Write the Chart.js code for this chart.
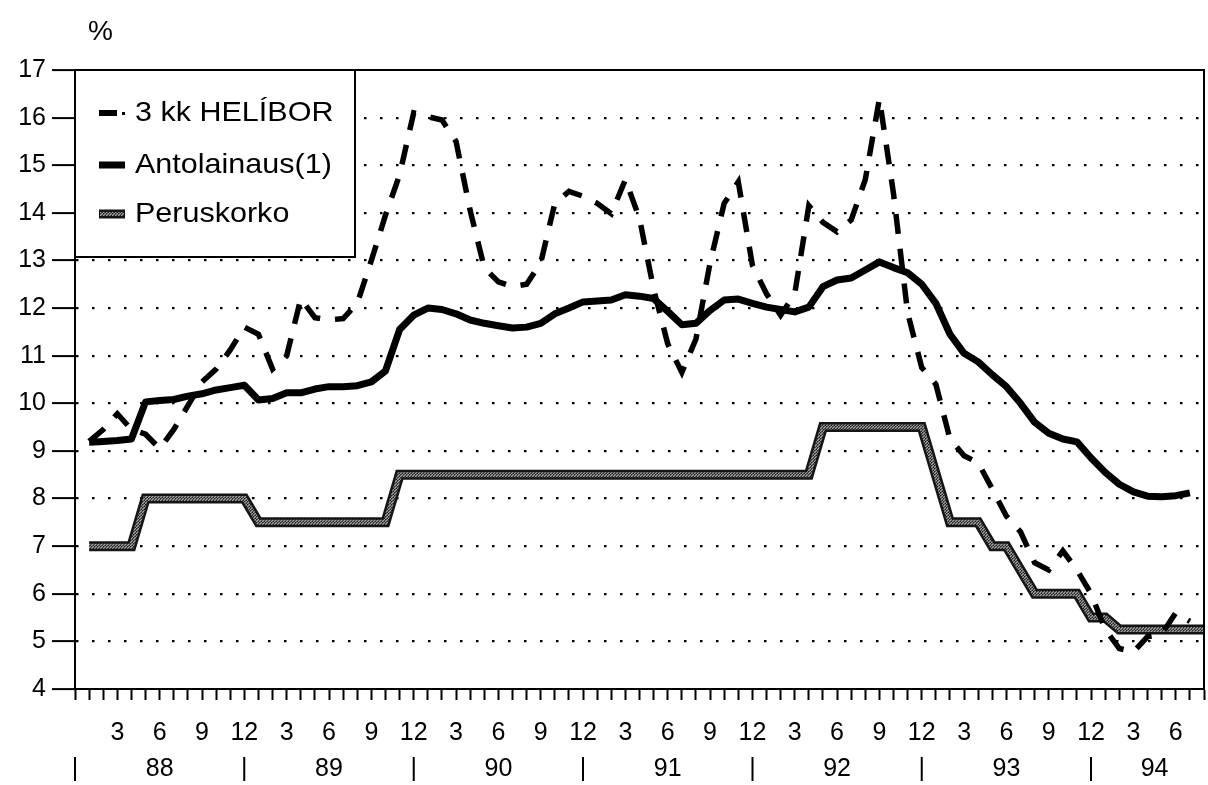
<!DOCTYPE html>
<html>
<head>
<meta charset="utf-8">
<script src="https://cdn.jsdelivr.net/npm/chart.js@4"></script>
<style>
  html, body { margin: 0; padding: 0; background: #fff; }
  #wrap { position: relative; width: 1208px; height: 785px; }
</style>
</head>
<body>
<div id="wrap"><canvas id="chart" width="1208" height="785"></canvas></div>
<script>
// monthly data, Jan 88 .. Aug 94 (index 0 is the axis origin, no data)
const years = ['88', '89', '90', '91', '92', '93', '94'];
const monthsInLastYear = 8;
const monthTickLabels = { 3: '3', 6: '6', 9: '9', 12: '12' };
const seriesNames = ['3 kk HELÍBOR', 'Antolainaus(1)', 'Peruskorko'];

const helibor = [
  9.2, 9.45, 9.78, 9.45, 9.35, 9.05, 9.45, 9.95, 10.45, 10.72,
  11.12, 11.6, 11.45, 10.72, 11.0, 12.2, 11.8, 11.75, 11.78, 12.1,
  13.0, 13.95, 14.8, 16.1, 16.02, 15.95, 15.5, 14.05, 12.85, 12.55,
  12.45, 12.5, 12.95, 14.2, 14.45, 14.35, 14.2, 13.98, 14.7, 13.88,
  12.4, 11.25, 10.65, 11.35, 12.95, 14.2, 14.65, 12.9, 12.3, 11.85,
  12.3, 14.15, 13.8, 13.6, 13.85, 14.7, 16.4, 14.4, 11.9, 10.75,
  10.4, 9.25, 8.9, 8.75, 8.2, 7.63, 7.3, 6.65, 6.5, 6.9,
  6.5, 6.0, 5.25, 4.85, 4.78, 5.1, 5.15, 5.6, 5.42
];

const antolainaus = [
  9.18, 9.2, 9.22, 9.25, 10.03, 10.06, 10.08, 10.15, 10.2, 10.28,
  10.33, 10.38, 10.07, 10.1, 10.22, 10.22, 10.3, 10.35, 10.35, 10.37,
  10.45, 10.68, 11.55, 11.85, 12.0, 11.97, 11.88, 11.75, 11.68, 11.63,
  11.58, 11.6, 11.68, 11.88, 12.0, 12.13, 12.15, 12.17, 12.28, 12.25,
  12.2, 11.93, 11.65, 11.68, 11.95, 12.17, 12.19, 12.1, 12.02, 11.97,
  11.92, 12.02, 12.45, 12.59, 12.63, 12.8, 12.97, 12.85, 12.74, 12.5,
  12.1, 11.45, 11.05, 10.87, 10.6, 10.35, 10.0, 9.6, 9.37, 9.25,
  9.19, 8.85, 8.55, 8.3, 8.14, 8.05, 8.04, 8.06, 8.12
];

const peruskorko = [
  7, 7, 7, 7, 8, 8, 8, 8, 8, 8,
  8, 8, 7.5, 7.5, 7.5, 7.5, 7.5, 7.5, 7.5, 7.5,
  7.5, 7.5, 8.5, 8.5, 8.5, 8.5, 8.5, 8.5, 8.5, 8.5,
  8.5, 8.5, 8.5, 8.5, 8.5, 8.5, 8.5, 8.5, 8.5, 8.5,
  8.5, 8.5, 8.5, 8.5, 8.5, 8.5, 8.5, 8.5, 8.5, 8.5,
  8.5, 8.5, 9.5, 9.5, 9.5, 9.5, 9.5, 9.5, 9.5, 9.5,
  8.5, 7.5, 7.5, 7.5, 7, 7, 6.5, 6, 6, 6,
  6, 5.5, 5.5, 5.25, 5.25, 5.25, 5.25, 5.25, 5.25, 5.25
];

const FONT = '"Liberation Sans", Arial, Helvetica, sans-serif';

// category labels: '' for the origin, then m/yy
const categories = [''];
years.forEach((y, k) => {
  const n = k === years.length - 1 ? monthsInLastYear : 12;
  for (let m = 1; m <= n; m++) categories.push(m + '/' + y);
});

function monthLabel(index) {
  if (index === 0) return '';
  const m = ((index - 1) % 12) + 1;
  return monthTickLabels[m] || '';
}

// halftone grey used for Peruskorko
function greyTexture() {
  const c = document.createElement('canvas');
  c.width = 3; c.height = 3;
  const g = c.getContext('2d');
  g.fillStyle = '#5a5a5a'; g.fillRect(0, 0, 3, 3);
  g.fillStyle = '#a8a8a8'; g.fillRect(0, 0, 1, 1); g.fillRect(2, 1, 1, 1); g.fillRect(1, 2, 1, 1);
  g.fillStyle = '#1a1a1a'; g.fillRect(1, 0, 1, 1); g.fillRect(0, 2, 1, 1);
  return g.createPattern(c, 'repeat');
}
const texture = greyTexture();

const extras = {
  id: 'extras',
  afterDraw(chart) {
    const { ctx, chartArea: a, scales: { x } } = chart;
    ctx.save();
    // frame round the plot
    ctx.strokeStyle = '#000';
    ctx.lineWidth = 2;
    ctx.strokeRect(a.left, a.top, a.right - a.left, a.bottom - a.top);

    // year row under the month labels
    ctx.fillStyle = '#000';
    ctx.font = '25px ' + FONT;
    ctx.textAlign = 'center';
    ctx.textBaseline = 'middle';
    const rowY = x.top + 80;
    years.forEach((y, k) => {
      const start = k * 12;
      const end = Math.min(start + 12, categories.length);
      ctx.fillText('|', x.getPixelForValue(start), rowY);
      ctx.fillText(y, x.getPixelForValue((start + end) / 2), rowY);
    });

    // unit
    ctx.textAlign = 'left';
    ctx.font = '28px ' + FONT;
    ctx.fillText('%', 88, 32);

    // legend box
    const bx = a.left, by = a.top, bw = 280, bh = 187;
    ctx.fillStyle = '#fff';
    ctx.fillRect(bx, by, bw, bh);
    ctx.strokeStyle = '#000';
    ctx.lineWidth = 2;
    ctx.strokeRect(bx, by, bw, bh);

    const sx = bx + 24, tx = bx + 60;
    const rows = [by + 43, by + 95, by + 144];
    ctx.fillStyle = '#000';
    // dashed sample
    ctx.fillRect(sx, rows[0] - 3, 18, 6);
    ctx.fillRect(sx + 23, rows[0] - 1, 3, 3);
    // solid sample
    ctx.fillRect(sx, rows[1] - 3.5, 26, 7);
    // grey sample
    ctx.fillStyle = '#151515';
    ctx.fillRect(sx, rows[2] - 4.5, 26, 9);
    ctx.fillStyle = texture;
    ctx.fillRect(sx + 1, rows[2] - 2, 24, 4);

    ctx.fillStyle = '#000';
    ctx.font = '28px ' + FONT;
    ctx.textBaseline = 'middle';
    seriesNames.forEach((s, i) => {
      ctx.save();
      ctx.translate(tx, rows[i]);
      ctx.scale(1.09, 1);
      ctx.fillText(s, 0, 0);
      ctx.restore();
    });
    ctx.restore();
  }
};

new Chart(document.getElementById('chart'), {
  type: 'line',
  data: {
    labels: categories,
    datasets: [
      { label: seriesNames[0], data: [null, ...helibor], borderColor: '#000', borderWidth: 5.5,
        borderDash: [20, 15], borderCapStyle: 'butt', pointRadius: 0, tension: 0 },
      { label: seriesNames[1], data: [null, ...antolainaus], borderColor: '#000', borderWidth: 7,
        borderJoinStyle: 'round', pointRadius: 0, tension: 0 },
      { label: seriesNames[2], data: [null, ...peruskorko], borderColor: texture, borderWidth: 5,
        pointRadius: 0, tension: 0 },
      { label: seriesNames[2] + ' edge', data: [null, ...peruskorko], borderColor: '#151515', borderWidth: 10,
        pointRadius: 0, tension: 0 }
    ]
  },
  options: {
    responsive: false,
    animation: false,
    devicePixelRatio: 1,
    layout: { padding: { top: 70, right: 4, left: 0, bottom: 0 } },
    plugins: { legend: { display: false }, tooltip: { enabled: false } },
    scales: {
      x: {
        type: 'category',
        offset: false,
        afterFit: s => { s.height = 96; s.paddingLeft = 0; s.paddingRight = 0; },
        grid: { drawOnChartArea: false, drawTicks: true, tickLength: 11, tickWidth: 2, tickColor: '#000', color: '#000' },
        border: { display: true, color: '#000', width: 2 },
        ticks: {
          autoSkip: false, maxRotation: 0, minRotation: 0, padding: 18,
          color: '#000', font: { family: FONT, size: 25 },
          callback: (v, i) => monthLabel(i)
        }
      },
      y: {
        min: 4, max: 17,
        afterFit: s => { s.width = 75; },
        ticks: { stepSize: 1, padding: 6, color: '#000', font: { family: FONT, size: 25 } },
        grid: {
          color: c => (c.tick && (c.tick.value === 4 || c.tick.value === 17)) ? 'rgba(0,0,0,0)' : '#000',
          lineWidth: 2.2, tickLength: 23, tickWidth: 2, tickColor: '#000'
        },
        border: { display: true, color: '#000', width: 2, dash: [2.5, 13.5] }
      }
    }
  },
  plugins: [extras]
});
</script>
</body>
</html>
